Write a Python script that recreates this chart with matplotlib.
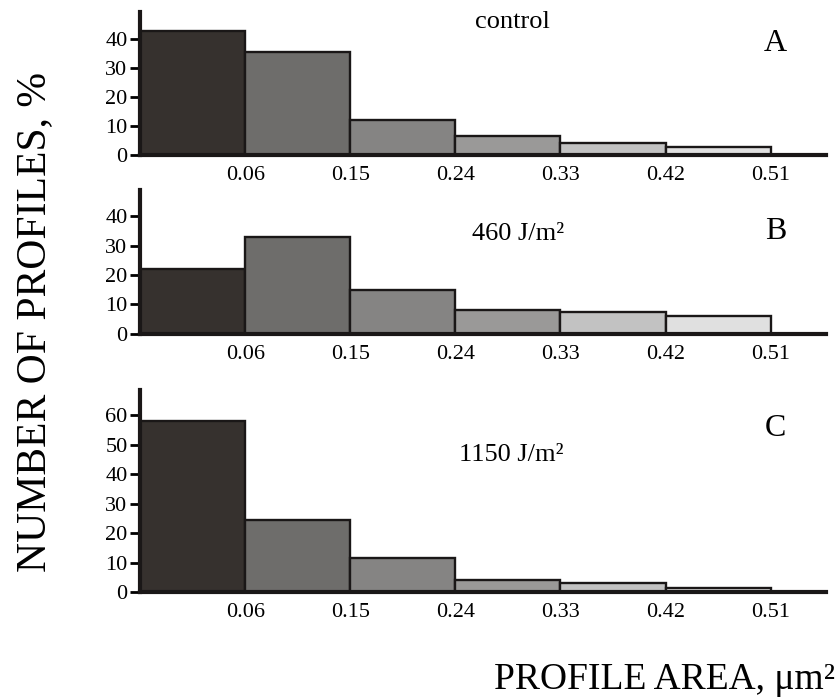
import matplotlib
matplotlib.use("Agg")
import matplotlib.pyplot as plt
import numpy as np

plt.rcParams['font.family'] = ['Liberation Serif', 'DejaVu Serif']

# %%
bin_edges = ["0.06", "0.15", "0.24", "0.33", "0.42", "0.51"]
control = [43, 35.5, 12, 6.5, 4, 2.5]
dose_460 = [22, 33, 15, 8, 7.5, 6]
dose_1150 = [58, 24.5, 11.5, 4, 3, 1.5]

bar_colors = ['#36312e', '#6e6d6b', '#858483', '#9a9998', '#c2c2c2', '#e0e0e0']

panels = [
    (control, "control", "A", [0, 10, 20, 30, 40], 49.5),
    (dose_460, "460 J/m\u00b2", "B", [0, 10, 20, 30, 40], 49),
    (dose_1150, "1150 J/m\u00b2", "C", [0, 10, 20, 30, 40, 50, 60], 68.5),
]

# axes boxes [left, bottom, width, height] in figure fraction
boxes = [
    [0.1673, 0.779, 0.82, 0.204],
    [0.1673, 0.523, 0.82, 0.206],
    [0.1673, 0.154, 0.82, 0.289],
]
note_pos = [(0.542, 0.93, 'center'), (0.484, 0.69, 'left'), (0.465, 0.68, 'left')]
letter_y = [0.78, 0.71, 0.81]

# %%
fig = plt.figure(figsize=(8.37, 7), dpi=100)

x = np.arange(len(bin_edges))
for i, (vals, note, letter, yticks, ytop) in enumerate(panels):
    ax = fig.add_axes(boxes[i])
    ax.bar(x, vals, width=1.0, align='edge', color=bar_colors,
           edgecolor='#1a1717', linewidth=1.7, zorder=2)
    ax.set_xlim(0, 6.53)
    ax.set_ylim(0, ytop)
    ax.set_xticks(x + 1)
    ax.set_xticklabels(bin_edges, fontsize=16)
    ax.set_yticks(yticks)
    ax.set_yticklabels([str(t) for t in yticks], fontsize=16)
    ax.tick_params(axis='x', length=0, pad=8)
    ax.tick_params(axis='y', direction='out', length=7, width=2, pad=2)
    for s in ['top', 'right']:
        ax.spines[s].set_visible(False)
    for s in ['left', 'bottom']:
        ax.spines[s].set_linewidth(3)
        ax.spines[s].set_color('#1a1717')
        ax.spines[s].set_zorder(3)
    nx, ny, ha = note_pos[i]
    ax.text(nx, ny, note, transform=ax.transAxes, fontsize=19,
            ha=ha, va='center')
    ax.text(0.926, letter_y[i], letter, transform=ax.transAxes,
            fontsize=23, ha='center', va='center')

fig.text(0.042, 0.54, "NUMBER OF PROFILES, %", rotation=90,
         fontsize=30, ha='center', va='center')
fig.text(0.998, 0.029, "PROFILE AREA, \u03bcm\u00b2", fontsize=27,
         ha='right', va='center')

plt.savefig("out.png", dpi=100)
